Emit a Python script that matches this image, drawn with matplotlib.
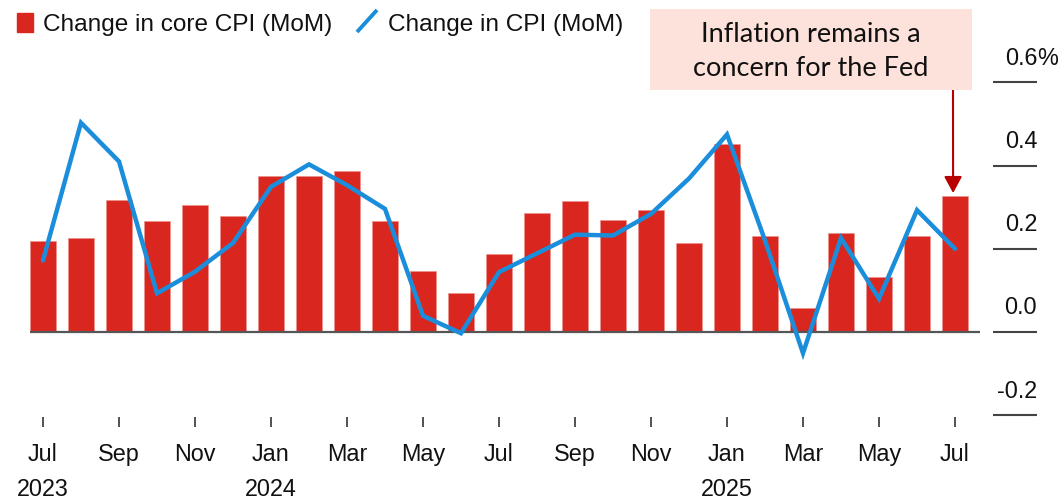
import matplotlib
matplotlib.use("Agg")
import matplotlib.pyplot as plt
import matplotlib.transforms as mtransforms
from matplotlib.patches import Rectangle
from matplotlib.lines import Line2D
import numpy as np

# ---------------- data ----------------
months = ["Jul", "Aug", "Sep", "Oct", "Nov", "Dec",
          "Jan", "Feb", "Mar", "Apr", "May", "Jun",
          "Jul", "Aug", "Sep", "Oct", "Nov", "Dec",
          "Jan", "Feb", "Mar", "Apr", "May", "Jun", "Jul"]
years = {0: "2023", 6: "2024", 18: "2025"}
core_cpi = [0.219, 0.226, 0.317, 0.267, 0.305, 0.278, 0.374, 0.375, 0.387,
            0.267, 0.146, 0.093, 0.188, 0.287, 0.316, 0.269, 0.294, 0.213,
            0.451, 0.230, 0.057, 0.239, 0.132, 0.231, 0.326]
cpi = [0.172, 0.503, 0.410, 0.093, 0.145, 0.214, 0.349, 0.403, 0.353,
       0.296, 0.039, -0.003, 0.144, 0.189, 0.234, 0.232, 0.284, 0.369,
       0.475, 0.220, -0.051, 0.226, 0.080, 0.293, 0.200]
y_ticks = [0.6, 0.4, 0.2, 0.0, -0.2]
y_labels = ["0.6", "0.4", "0.2", "0.0", "-0.2"]

RED = "#d9261f"
BLUE = "#1b8edb"
DARKRED = "#b80000"
TXT = "#111111"
FONT = "Liberation Sans"

W, H = 1063, 501
fig = plt.figure(figsize=(W / 100, H / 100), dpi=100)
ax = fig.add_axes([0, 0, 1, 1])
ax.set_axis_off()

# pixel mapping: month i -> x px 43 + 38 i ; value v -> y px 332 - 416 v
X0, DX = 43.0, 38.0
Y0, DY = 332.0, 416.0
ax.set_xlim((0 - X0) / DX, (W - X0) / DX)
ax.set_ylim((Y0 - H) / DY, Y0 / DY)

x = np.arange(len(months))

def fp(px, py):
    return px / W, 1 - py / H

# bars
ax.bar(x, core_cpi, width=0.68, color=RED, zorder=2, edgecolor="#ec8f8a",
       linewidth=0.4)
# baseline
ax.hlines(0, x[0] - 0.34, x[-1] + 0.66, color="#555555", lw=1.6, zorder=3)
# line
ax.plot(x, cpi, color=BLUE, lw=3.2, zorder=4, solid_joinstyle="miter",
        solid_capstyle="round")

# x ticks and labels
xt = ax.get_xaxis_transform()
for i in range(0, len(months), 2):
    ax.plot([i, i], [1 - 417 / H, 1 - 427 / H], transform=xt,
            color="#444444", lw=1.3, solid_capstyle="butt")
    ax.text(i, 1 - 461 / H, months[i], transform=xt, ha="center",
            va="baseline", fontsize=16.8, family=FONT, color=TXT)
for i, yr in years.items():
    ax.text(i, 1 - 496 / H, yr, transform=xt, ha="center",
            va="baseline", fontsize=16.8, family=FONT, color=TXT)

# right y ticks
xl = (993 - X0) / DX
xr = (1037 - X0) / DX
ax.hlines(y_ticks, xl, xr, color="#444444", lw=1.5, clip_on=False)
off = mtransforms.offset_copy(ax.transData, fig=fig, x=0, y=17.5, units="dots")
for v, lab in zip(y_ticks, y_labels):
    ax.text(xr, v, lab, transform=off, ha="right", va="baseline",
            fontsize=16.8, family=FONT, color=TXT)
ax.text(xr, y_ticks[0], "%", transform=off, ha="left", va="baseline",
        fontsize=16.8, family=FONT, color=TXT)

# legend
fig.patches.append(Rectangle(fp(17, 32), 16 / W, 19 / H, transform=fig.transFigure,
                             color=RED, zorder=5))
fig.text(*fp(43, 31.5), "Change in core CPI (MoM)", ha="left", va="baseline",
         fontsize=17.6, family=FONT, color=TXT)
fig.lines.append(Line2D([357 / W, 377 / W], [1 - 32 / H, 1 - 10 / H],
                        transform=fig.transFigure, color=BLUE, lw=2.8,
                        solid_capstyle="butt"))
fig.text(*fp(388, 31.5), "Change in CPI (MoM)", ha="left", va="baseline",
         fontsize=17.6, family=FONT, color=TXT)

# annotation box
fig.patches.append(Rectangle(fp(650, 90), 322 / W, 81 / H, transform=fig.transFigure,
                             facecolor="#fde2dc", edgecolor="none", zorder=1))
fig.text(*fp(811, 42.3), "Inflation remains a", ha="center", va="baseline",
         fontsize=19.5, family="Lato", color=TXT)
fig.text(*fp(811, 76), "concern for the Fed", ha="center", va="baseline",
         fontsize=19.5, family="Lato", color=TXT)
ax.annotate("", xy=(x[-1] - 0.05, core_cpi[-1] + 0.008),
            xytext=fp(953, 90), textcoords="figure fraction",
            arrowprops=dict(arrowstyle="-|>,head_length=0.5,head_width=0.27",
                            color=DARKRED, lw=1.5, mutation_scale=20,
                            shrinkA=0, shrinkB=0))

fig.savefig("out.png", dpi=100)
